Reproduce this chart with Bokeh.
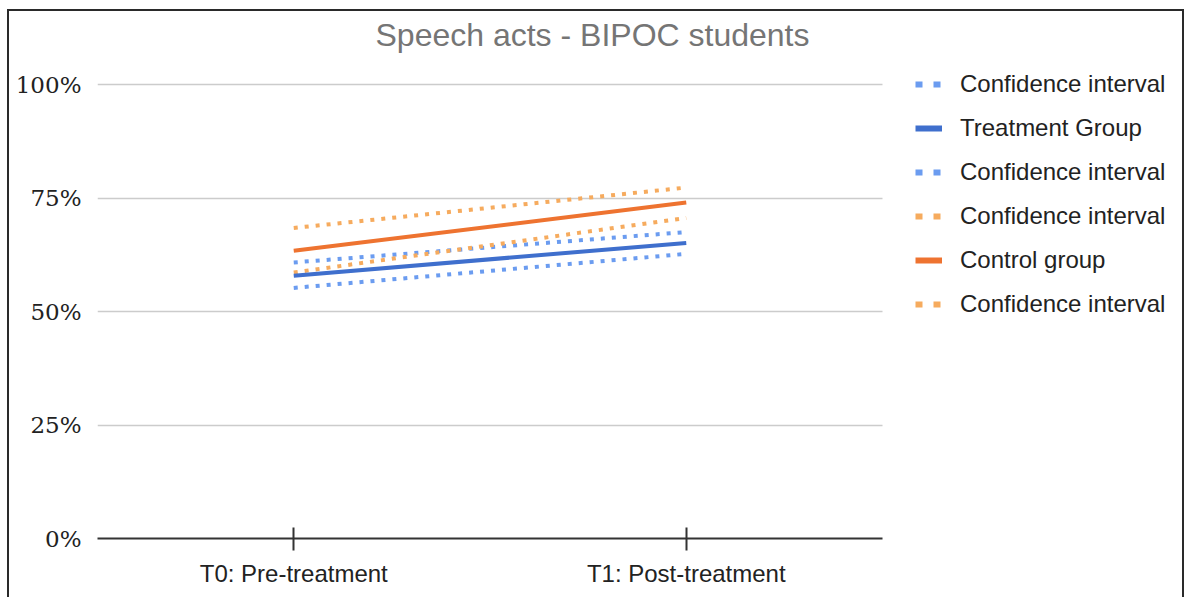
from bokeh.plotting import figure
from bokeh.models import (FixedTicker, NumeralTickFormatter, Legend, LegendItem,
                          ColumnDataSource, Label)
from bokeh.embed import file_html
from bokeh.resources import INLINE

# ---- data ----
timepoints = ["T0: Pre-treatment", "T1: Post-treatment"]
treatment = [0.579, 0.651]
treatment_ci_upper = [0.608, 0.675]
treatment_ci_lower = [0.552, 0.627]
control = [0.634, 0.740]
control_ci_upper = [0.684, 0.773]
control_ci_lower = [0.586, 0.706]
y_ticks = [0, 0.25, 0.5, 0.75, 1.0]

BLUE = "#3f6fcd"
BLUE_CI = "#6b9cf0"
ORANGE = "#ee7330"
ORANGE_CI = "#f6ab5e"
FONT = "Liberation Sans"

xpos = list(range(len(timepoints)))
# plot area (frame) covers title and legend too; axis & grid are bounded to the chart part
X_LO, X_HI = -0.5, len(timepoints) - 0.5
p = figure(width=1177, height=588, x_range=(X_LO, X_LO + 1087 / 392.5),
           y_range=(0, 529 / 454), output_backend="svg", toolbar_location=None,
           min_border_left=90, min_border_right=0, min_border_top=0, min_border_bottom=59)
p.outline_line_color = None
p.border_fill_alpha = 0
p.background_fill_alpha = 0
p.styles = {"margin-left": "7px", "margin-top": "9px",
            "box-shadow": "inset 2px 2px 0 #2a2a2a, inset -2px 0 0 #2a2a2a"}

src = ColumnDataSource(dict(x=xpos, t=treatment, tu=treatment_ci_upper, tl=treatment_ci_lower,
                            c=control, cu=control_ci_upper, cl=control_ci_lower))

dot = dict(line_width=4, line_dash="4 7", line_cap="butt")
p.line("x", "tu", source=src, line_color=BLUE_CI, **dot)
p.line("x", "tl", source=src, line_color=BLUE_CI, **dot)
p.line("x", "cu", source=src, line_color=ORANGE_CI, **dot)
p.line("x", "cl", source=src, line_color=ORANGE_CI, **dot)
p.line("x", "t", source=src, line_color=BLUE, line_width=4)
p.line("x", "c", source=src, line_color=ORANGE, line_width=4)

# legend-only renderers (no visible data) so the key swatches match the reference look
blank = ColumnDataSource(dict(x=[0.0], y=[float("nan")]))
ldot = dict(line_width=6, line_dash="7 11", line_cap="butt")
l_bci = p.line("x", "y", source=blank, line_color=BLUE_CI, **ldot)
l_t = p.line("x", "y", source=blank, line_color=BLUE, line_width=6)
l_oci = p.line("x", "y", source=blank, line_color=ORANGE_CI, **ldot)
l_c = p.line("x", "y", source=blank, line_color=ORANGE, line_width=6)

legend = Legend(items=[
    LegendItem(label="Confidence interval", renderers=[l_bci]),
    LegendItem(label="Treatment Group", renderers=[l_t]),
    LegendItem(label="Confidence interval", renderers=[l_bci]),
    LegendItem(label="Confidence interval", renderers=[l_oci]),
    LegendItem(label="Control group", renderers=[l_c]),
    LegendItem(label="Confidence interval", renderers=[l_oci]),
], location=(818, 220), padding=0, margin=0, spacing=16, glyph_width=27, glyph_height=24,
   label_height=24, label_standoff=18, border_line_alpha=0, background_fill_alpha=0,
   label_text_font=FONT, label_text_font_size="24px", label_text_color="#222222")
p.add_layout(legend, "center")

# title
p.add_layout(Label(x=495, y=504, x_units="screen", y_units="screen", text="Speech acts - BIPOC students",
                   text_font=FONT, text_font_size="32px", text_color="#757575",
                   text_align="center", text_baseline="middle"))

# axes
p.xgrid.grid_line_color = None
p.ygrid.grid_line_color = "#cccccc"
p.ygrid.grid_line_width = 1.5
p.ygrid.cross_bounds = (X_LO, X_HI)
p.yaxis.ticker = FixedTicker(ticks=y_ticks)
p.yaxis.formatter = NumeralTickFormatter(format="0%")
p.yaxis.axis_line_color = None
p.yaxis.major_tick_line_color = None
p.yaxis.minor_tick_line_color = None
p.yaxis.major_label_standoff = 10
p.yaxis.major_label_text_font = "DejaVu Serif"
p.yaxis.major_label_text_font_size = "23px"
p.yaxis.major_label_text_color = "#222222"

p.xaxis.bounds = (X_LO, X_HI)
p.xaxis.ticker = FixedTicker(ticks=xpos)
p.xaxis.major_label_overrides = {i: t for i, t in zip(xpos, timepoints)}
p.xaxis.minor_tick_line_color = None
p.xaxis.axis_line_color = "#333333"
p.xaxis.axis_line_width = 2
p.xaxis.major_tick_line_color = "#333333"
p.xaxis.major_tick_line_width = 2
p.xaxis.major_tick_in = 11
p.xaxis.major_tick_out = 12
p.xaxis.major_label_standoff = 9
p.xaxis.major_label_text_font = FONT
p.xaxis.major_label_text_font_size = "24px"
p.xaxis.major_label_text_color = "#222222"

open("out.html", "w").write(file_html(p, INLINE))
